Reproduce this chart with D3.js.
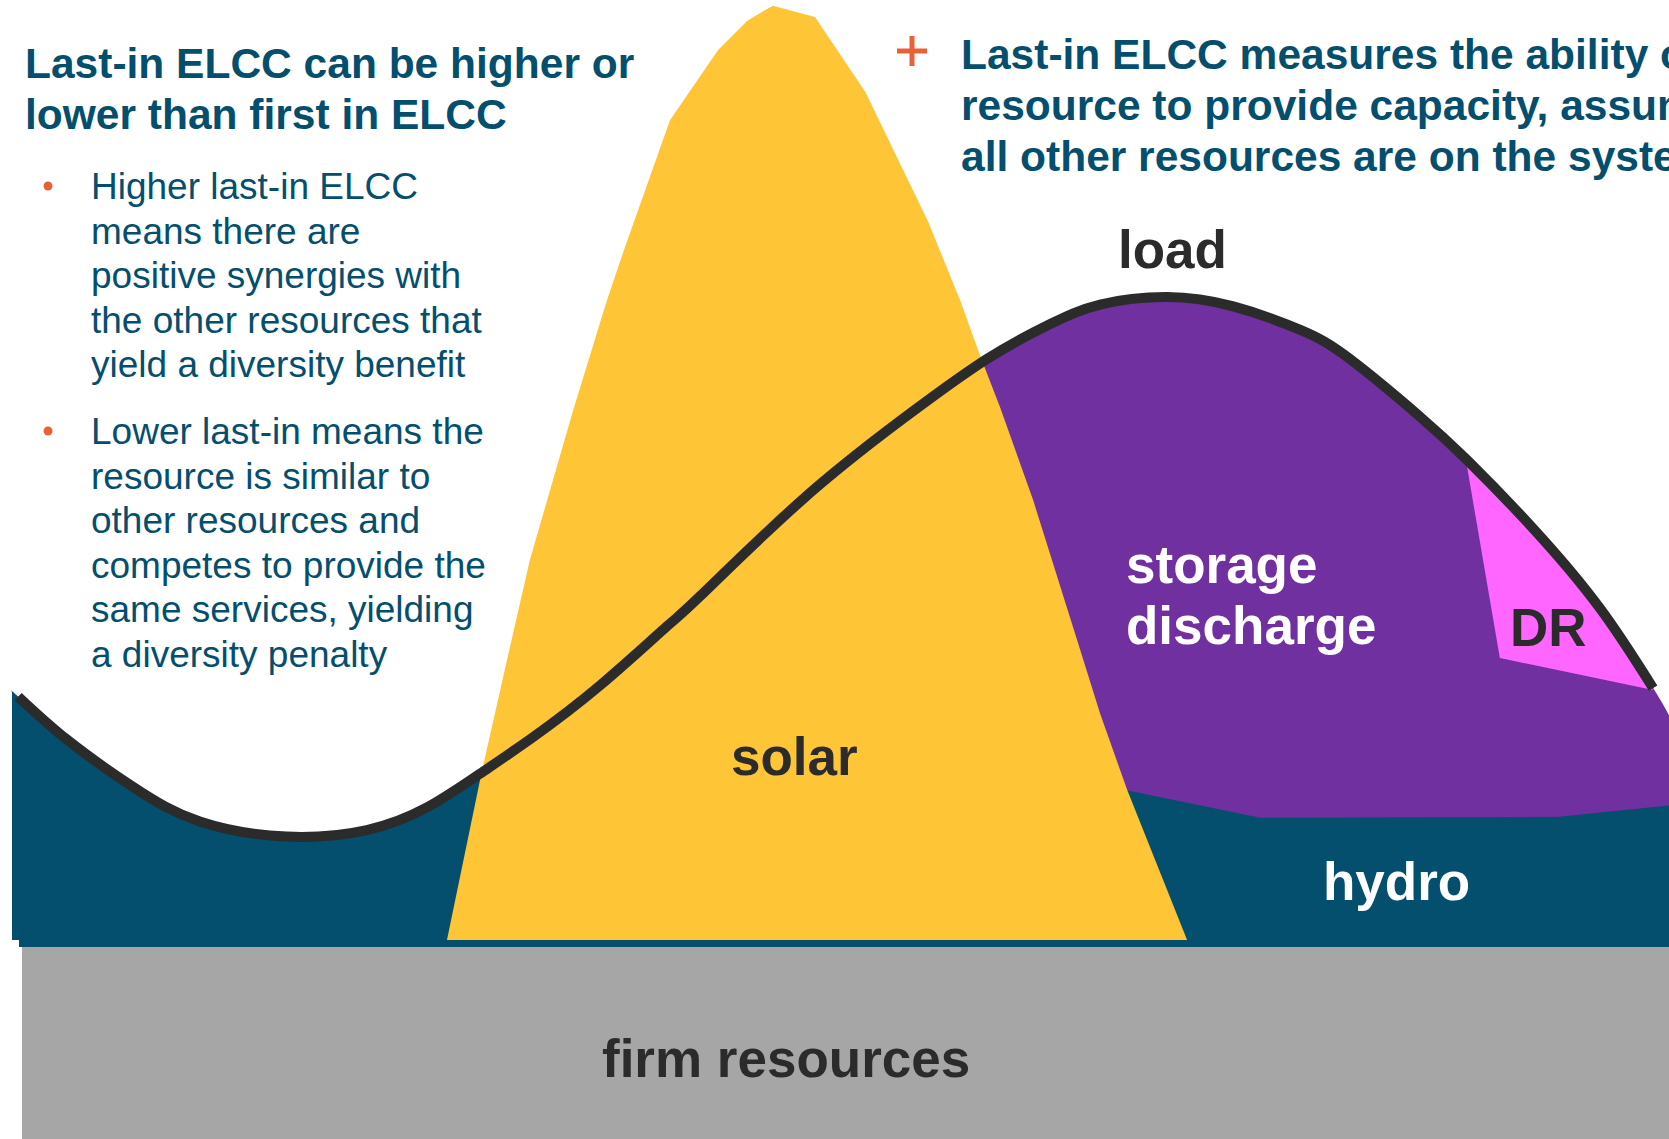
<!DOCTYPE html>
<html>
<head>
<meta charset="utf-8">
<script src="https://cdn.jsdelivr.net/npm/d3@7"></script>
<style>
  body { margin: 0; background: #ffffff; }
  svg { display: block; }
</style>
</head>
<body>
<svg id="chart"></svg>
<script>

// hour of day vs. share of the peak (0-100)
var loadCurve = [
  [0.09, 25.9], [0.80, 21.3], [1.75, 16.3], [2.72, 12.6], [3.98, 11.0],
  [5.14, 11.7], [6.01, 14.1], [6.78, 17.7], [7.55, 21.6], [8.52, 27.1],
  [9.49, 33.4], [9.97, 36.6], [11.41, 46.6], [12.86, 55.2], [14.12, 61.8],
  [15.03, 65.5], [15.76, 67.6], [16.73, 68.4], [17.69, 67.4], [18.66, 64.9],
  [19.38, 61.8], [20.39, 55.7], [21.07, 51.1], [22.03, 43.8], [23.00, 35.3],
  [23.77, 26.8]
];

var solarShape = [
  [6.30, 0], [6.81, 18.1], [7.17, 29.8], [7.50, 40.4], [8.13, 56.4],
  [8.62, 68.1], [8.84, 72.9], [9.53, 87.2], [10.23, 94.7], [10.65, 97.8],
  [11.02, 99.4], [11.63, 98.2], [12.36, 90.2], [13.27, 76.4], [13.73, 68.1],
  [14.02, 62.2], [14.31, 56.7], [14.79, 46.8], [15.47, 30.9], [15.76, 24.1],
  [16.15, 16.0], [17.02, 0]
];

// top of the hydro block on the evening side (= bottom of storage)
var hydroTop = [[15.90, 16.2], [16.16, 15.9], [18.08, 13.0], [22.41, 13.1], [24.0, 14.3]];

var drShape = [[21.06, 51.0], [22.03, 43.6], [23.00, 35.1], [23.77, 26.6], [21.55, 30.0]];

// where the storage block runs past the end of the load line
var storageTail = [24.0, 23.9];
// where the early-morning hydro block starts at the left
var hydroHead = [0, 26.4];

var titleLines = ["Last-in ELCC can be higher or", "lower than first in ELCC"];
var bulletHigher = ["Higher last-in ELCC", "means there are", "positive synergies with",
  "the other resources that", "yield a diversity benefit"];
var bulletLower = ["Lower last-in means the", "resource is similar to", "other resources and",
  "competes to provide the", "same services, yielding", "a diversity penalty"];
var noteLines = ["Last-in ELCC measures the ability of a", "resource to provide capacity, assuming",
  "all other resources are on the system"];

var colors = {
  teal: "#044e6e",
  solar: "#fec537",
  storage: "#7030a0",
  dr: "#ff66ff",
  firm: "#a6a6a6",
  line: "#2b2b2b",
  orange: "#e76237"
};

var screen = {width: 1669, height: 1139};
var font = "'Liberation Sans', Arial, Helvetica, sans-serif";

var svg = d3.select("#chart")
  .attr("width", screen.width)
  .attr("height", screen.height);

var xScale = d3.scaleLinear()
  .domain([0, 24])
  .range([12, screen.width]);

var yScale = d3.scaleLinear()
  .domain([0, 100])
  .range([940, 0]);

var smooth = d3.curveNatural;

var area = d3.area()
  .x(function(d) { return xScale(d[0]); })
  .y0(yScale(0))
  .y1(function(d) { return yScale(d[1]); })
  .curve(smooth);

var polygon = d3.line()
  .x(function(d) { return xScale(d[0]); })
  .y(function(d) { return yScale(d[1]); })
  .curve(d3.curveLinearClosed);

// draw the stacked shapes, back to front
var drawShapes = function()
{
  var base = yScale(0);

  // firm resources block + thin teal edge on top of it
  svg.append("rect")
    .attr("x", 19).attr("y", base)
    .attr("width", screen.width - 19).attr("height", 7)
    .attr("fill", colors.teal);
  svg.append("rect")
    .attr("x", 22).attr("y", base + 7)
    .attr("width", screen.width - 22).attr("height", screen.height - base - 7)
    .attr("fill", colors.firm);

  // hydro under the whole load
  svg.append("path")
    .datum([hydroHead].concat(loadCurve))
    .attr("d", area)
    .attr("fill", colors.teal);

  // storage discharge under the evening part of the load
  var evening = loadCurve.filter(function(d) { return d[0] >= 11.4; });
  svg.append("path")
    .datum(evening.concat([storageTail]))
    .attr("d", area)
    .attr("fill", colors.storage);

  // evening hydro
  var hydroBlock = hydroTop.concat([[24, 0], [hydroTop[0][0], 0]]);
  svg.append("path")
    .datum(hydroBlock)
    .attr("d", polygon)
    .attr("fill", colors.teal);

  svg.append("path")
    .datum(solarShape)
    .attr("d", polygon)
    .attr("fill", colors.solar);

  svg.append("path")
    .datum(drShape)
    .attr("d", polygon)
    .attr("fill", colors.dr);

  // load line
  svg.append("path")
    .datum(loadCurve)
    .attr("d", d3.line()
      .x(function(d) { return xScale(d[0]); })
      .y(function(d) { return yScale(d[1]); })
      .curve(smooth))
    .attr("fill", "none")
    .attr("stroke", colors.line)
    .attr("stroke-width", 10);
}

var addLabel = function(txt, x, y, fill)
{
  svg.append("text")
    .attr("x", x).attr("y", y)
    .attr("font-family", font)
    .attr("font-weight", "bold")
    .attr("font-size", 53)
    .attr("fill", fill)
    .text(txt);
}

var drawLabels = function()
{
  addLabel("load", 1118, 268, colors.line);
  addLabel("solar", 731, 775, colors.line);
  addLabel("storage", 1126, 583, "#ffffff");
  addLabel("discharge", 1126, 644, "#ffffff");
  addLabel("DR", 1510, 646, colors.line);
  addLabel("hydro", 1323, 900, "#ffffff");
  addLabel("firm resources", 602, 1077, colors.line);
}

var drawText = function()
{
  svg.append("g").selectAll("text")
    .data(titleLines)
    .enter()
    .append("text")
    .attr("x", 25)
    .attr("y", function(d, i) { return 78 + i * 51; })
    .attr("font-family", font)
    .attr("font-weight", "bold")
    .attr("font-size", 42.5)
    .attr("fill", colors.teal)
    .text(function(d) { return d; });

  var bullets = [{lines: bulletHigher, top: 199}, {lines: bulletLower, top: 444}];
  bullets.forEach(function(b)
  {
    svg.append("circle")
      .attr("cx", 48).attr("cy", b.top - 13)
      .attr("r", 4.5)
      .attr("fill", colors.orange);

    svg.append("g").selectAll("text")
      .data(b.lines)
      .enter()
      .append("text")
      .attr("x", 91)
      .attr("y", function(d, i) { return b.top + i * 44.6; })
      .attr("font-family", font)
      .attr("font-size", 37)
      .attr("fill", colors.teal)
      .text(function(d) { return d; });
  });

  // orange plus
  svg.append("rect")
    .attr("x", 897).attr("y", 48.5)
    .attr("width", 30).attr("height", 5)
    .attr("fill", colors.orange);
  svg.append("rect")
    .attr("x", 909.5).attr("y", 36)
    .attr("width", 5).attr("height", 30)
    .attr("fill", colors.orange);

  // this note runs off the right edge, as in the original slide
  svg.append("g").selectAll("text")
    .data(noteLines)
    .enter()
    .append("text")
    .attr("x", 961)
    .attr("y", function(d, i) { return 69 + i * 51; })
    .attr("font-family", font)
    .attr("font-weight", "bold")
    .attr("font-size", 42.5)
    .attr("fill", colors.teal)
    .text(function(d) { return d; });
}

drawShapes();
drawLabels();
drawText();

</script>
</body>
</html>
